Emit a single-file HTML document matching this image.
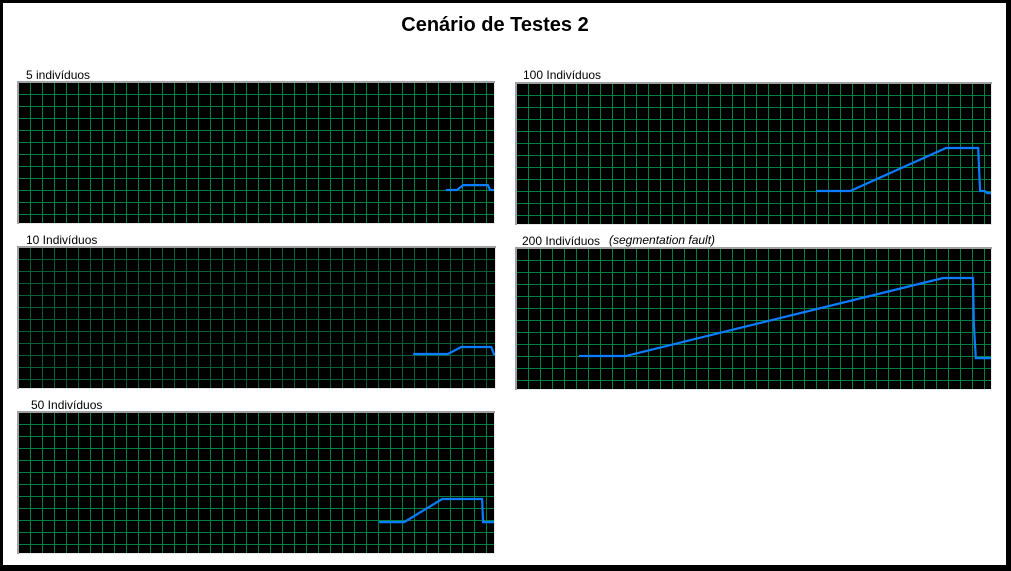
<!DOCTYPE html>
<html><head><meta charset="utf-8"><style>
html,body{margin:0;padding:0;background:#fff}
svg{display:block}
text{font-family:"Liberation Sans",sans-serif}
</style></head><body>
<svg id="c" width="1011" height="571">
<rect x="0" y="0" width="1011" height="571" fill="#000"/>
<rect x="3" y="3" width="1003" height="562" fill="#fff"/>
<text x="495" y="31" text-anchor="middle" font-size="20" font-weight="bold">Cenário de Testes 2</text>
<g id="panels"></g>
</svg>
<script>
// time (% of window) and usage (% of height) for each panel
const names = ["5 indivíduos","100 Indivíduos","10 Indivíduos","200 Indivíduos","50 Indivíduos"];
const t5 = [89.9,92.2,93.5,98.7,99.2,100];
const u5 = [23.6,23.6,27.1,27.1,23.6,23.6];
const t100 = [63.1,70.3,90.5,97.3,97.5,97.7,98.7,99.2,100];
const u100 = [23.6,23.6,54.3,54.3,39.3,23.6,23.6,22.1,22.1];
const t10 = [82.8,90.1,92.9,99.2,99.8,100];
const u10 = [24.3,24.3,29.3,29.3,24.3,24.3];
const t200 = [13.1,23.0,89.9,96.2,96.4,96.8,100];
const u200 = [23.6,23.6,79.3,79.3,45.7,22.1,22.1];
const t50 = [75.8,81.1,89.1,97.5,97.7,100];
const u50 = [22.1,22.1,38.6,38.6,22.1,22.1];

const NS="http://www.w3.org/2000/svg";
const g=document.getElementById('panels');
const boxes=[
 {x:19,y:83,w:475,h:140,lx:26,ly:79,grid:"#008040",t:t5,u:u5,dn:"panel-5"},
 {x:517,y:84,w:474,h:140,lx:523,ly:79,grid:"#008040",t:t100,u:u100,dn:"panel-100"},
 {x:19,y:248,w:476,h:140,lx:26,ly:244,grid:"#0f5e3a",t:t10,u:u10,dn:"panel-10"},
 {x:517,y:249,w:474,h:140,lx:522,ly:245,grid:"#008040",t:t200,u:u200,dn:"panel-200"},
 {x:19,y:413,w:475,h:140,lx:31,ly:409,grid:"#008040",t:t50,u:u50,dn:"panel-50"}
];
function mk(tag,attrs){const e=document.createElementNS(NS,tag);for(const k in attrs)e.setAttribute(k,attrs[k]);return e;}
boxes.forEach((b,i)=>{
 const pg=mk('g',{});
 
 
 const lab=mk('text',{x:b.lx,y:b.ly,'font-size':12});
 lab.textContent=names[i];
 
 
 pg.appendChild(lab);
 if(i===3){
  const s=mk('text',{x:609,y:244,'font-size':12,'font-style':'italic'});
  s.textContent="(segmentation fault)";
  
  
  pg.appendChild(s);
 }
 const bg=mk('rect',{x:b.x-2,y:b.y-2,width:b.w+3,height:b.h+3,fill:'#a0a0a0'});
 pg.appendChild(bg);
 const bl=mk('rect',{x:b.x,y:b.y,width:b.w+1,height:b.h+1,fill:'#e8e8e8'});
 pg.appendChild(bl);
 const r=mk('rect',{x:b.x,y:b.y,width:b.w,height:b.h,fill:'#000'});
 
 
 pg.appendChild(r);
 let d='';
 for(let gx=b.x+11;gx<b.x+b.w;gx+=12)d+=`M${gx+0.5},${b.y}V${b.y+b.h}`;
 for(let gy=b.y+11;gy<b.y+b.h;gy+=12)d+=`M${b.x},${gy+0.5}H${b.x+b.w}`;
 const gp=mk('path',{d:d,stroke:b.grid,'stroke-width':1,fill:'none'});
 
 
 pg.appendChild(gp);
 const X=v=>b.x+v/100*b.w, Y=v=>b.y+b.h-v/100*b.h;
 const pts=b.t.map((tv,k)=>X(tv).toFixed(1)+','+Y(b.u[k]).toFixed(1)).join(' ');
 const pl=mk('polyline',{points:pts,fill:'none',stroke:'#0a7cff','stroke-width':2.2});
 
 
 pg.appendChild(pl);
 g.appendChild(pg);
});
</script>
</body></html>
